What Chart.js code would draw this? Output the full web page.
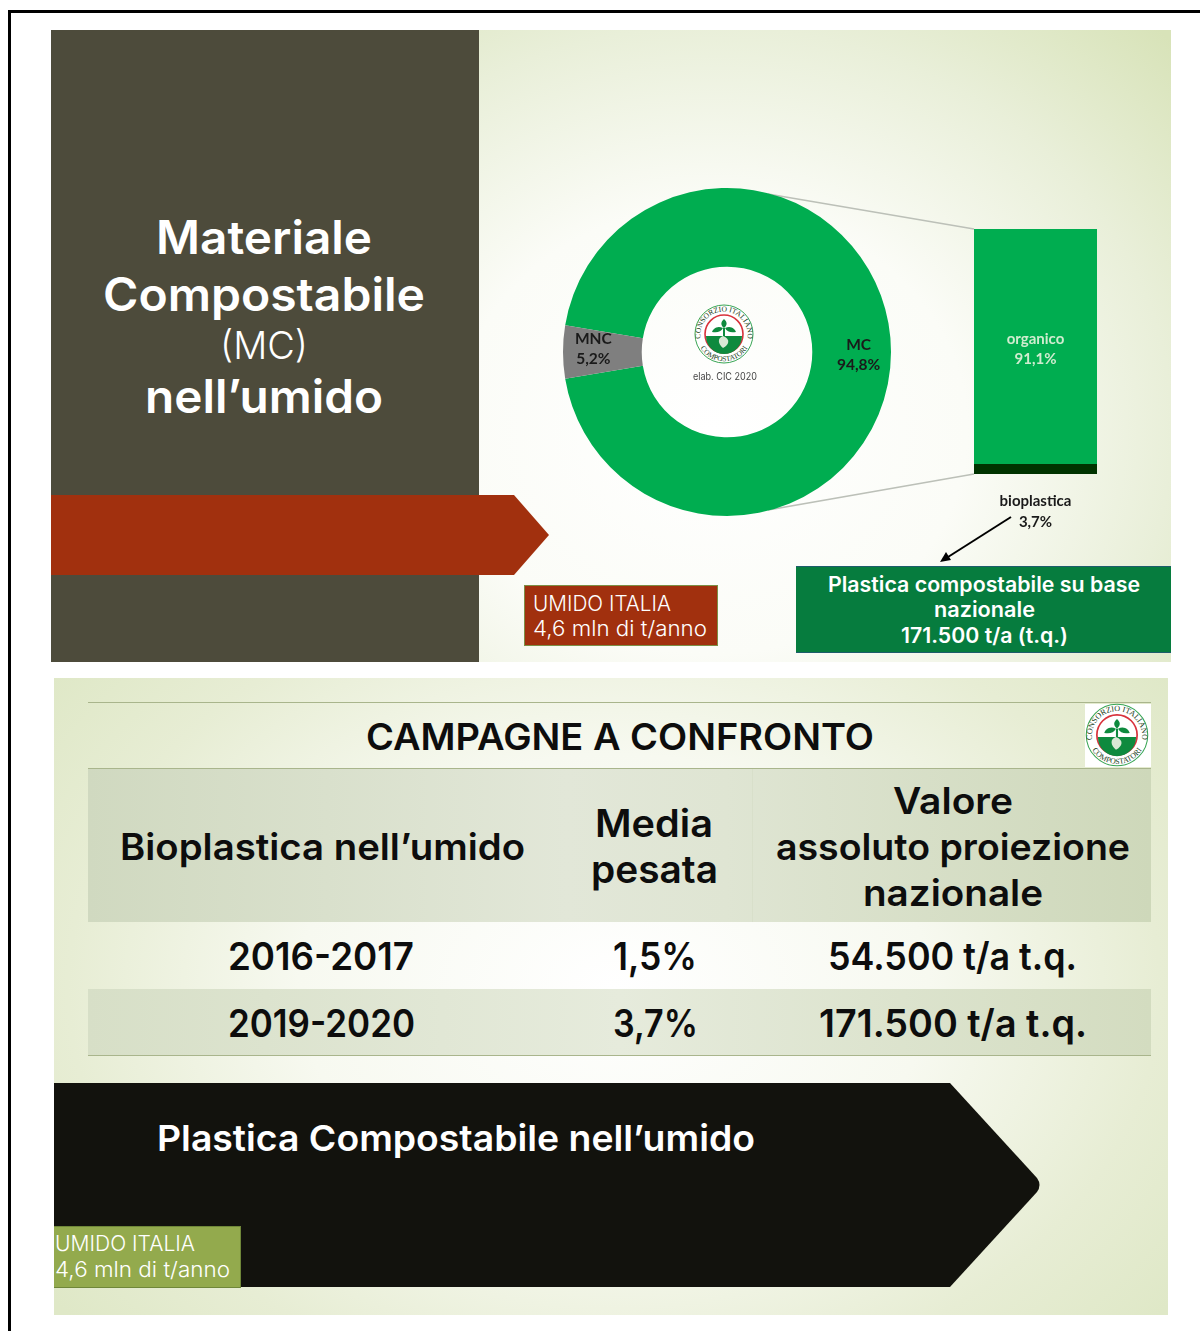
<!DOCTYPE html>
<html><head><meta charset="utf-8">
<script src="https://cdn.jsdelivr.net/npm/chart.js@4/dist/chart.umd.min.js"></script>
<style>
html,body{margin:0;padding:0;background:#fff;width:1200px;height:1331px;overflow:hidden}
#page{position:relative;width:1200px;height:1331px;overflow:hidden;font-family:Inter,sans-serif}
.a{position:absolute}
.t{position:absolute;white-space:nowrap;line-height:1;transform-origin:0 50%}
canvas{position:absolute;display:block}
svg{position:absolute;left:0;top:0;overflow:visible}
</style></head><body>
<div id="page">
<div class="a" style="left:8px;top:10px;width:1192px;height:2.5px;background:#000"></div>
<div class="a" style="left:8px;top:10px;width:2.5px;height:1321px;background:#000"></div>

<div class="a" style="left:51px;top:30px;width:1120px;height:632px;background:radial-gradient(ellipse 640px 560px at 660px 400px,#ffffff 0%,#fbfcf7 40%,#e9efd9 72%,#d8e3b9 100%)"></div>
<div class="a" style="left:51px;top:30px;width:428px;height:632px;background:#4d4b3b"></div>

<div class="a" style="left:54px;top:678px;width:1114px;height:637px;background:radial-gradient(ellipse 700px 520px at 560px 310px,#ffffff 0%,#f7f9f0 45%,#e7edd4 78%,#dfe8c7 100%)"></div>
<div class="a" style="left:88px;top:769px;width:1063px;height:153px;background:linear-gradient(90deg,#d0d9c0 0%,#e2e7d8 45%,#dfe5d3 60%,#ced8ba 100%)"></div>
<div class="a" style="left:88px;top:989px;width:1063px;height:66px;background:linear-gradient(90deg,#d7dfc7 0%,#e6ebdc 50%,#d3dcc0 100%)"></div>
<div class="a" style="left:752px;top:769px;width:1px;height:153px;background:#d8dfca"></div>
<div class="a" style="left:88px;top:702px;width:1063px;height:1px;background:#a9b58c"></div>
<div class="a" style="left:88px;top:768px;width:1063px;height:1px;background:#a9b58c"></div>
<div class="a" style="left:88px;top:1055px;width:1063px;height:1px;background:#a9b58c"></div>
<div class="a" style="left:1085px;top:704px;width:66px;height:63px;background:#fff"></div>

<svg width="1200" height="1331">
  <defs>
    <g id="logo">
      <circle cx="0" cy="0" r="29" fill="#fff" stroke="#3aa655" stroke-width="1"/>
      <circle cx="0" cy="0" r="19" fill="#fff" stroke="#d8323c" stroke-width="1.6"/>
      <path d="M-18 2 H18 A18 18 0 0 1 -18 2Z" fill="#0e8a3e"/>
      <path d="M0 -15 C3.5 -12 3.5 -9 0 -6 C-3.5 -9 -3.5 -12 0 -15Z M-1 -6 C-7 -9 -11 -5 -12 -2 C-7 -1 -3 -2 -1 -6Z M1 -6 C7 -9 11 -5 12 -2 C7 -1 3 -2 1 -6Z M-1 -6 H1 V2 H-1Z" fill="#0e8a3e"/>
      <path d="M-1 2 C-7 4 -6 10 -1 14 C5 11 7 5 -1 2Z" fill="#d9e8d5"/>
      <path id="arcTop" d="M-22 10 A23.7 23.7 0 1 1 22 10" fill="none"/>
      <path id="arcBot" d="M-27.5 2 A27.6 27.6 0 0 0 27.5 2" fill="none"/>
      <text font-family="Liberation Serif" font-size="7.6" fill="#1b3d20"><textPath href="#arcTop" startOffset="50%" text-anchor="middle">CONSORZIO ITALIANO</textPath></text>
      <text font-family="Liberation Serif" font-size="7.4" fill="#1b3d20"><textPath href="#arcBot" startOffset="50%" text-anchor="middle">COMPOSTATORI</textPath></text>
    </g>
  </defs>
  <path d="M51 495 H514 L549 535 L514 575 H51Z" fill="#a1300e"/>
  <path d="M54 1083 H950 L1037 1178 Q1042 1185 1037 1192 L950 1287 H54Z" fill="#12120d"/>
  <line x1="768" y1="194" x2="974" y2="229" stroke="#bcc0b8" stroke-width="1.6"/>
  <line x1="768" y1="510" x2="974" y2="474" stroke="#bcc0b8" stroke-width="1.6"/>
  <line x1="1011" y1="517" x2="948" y2="557" stroke="#000" stroke-width="2"/>
  <path d="M940 562 L951 560 L946 552Z" fill="#000"/>
  <use href="#logo" transform="translate(724 334)"/>
  <use href="#logo" transform="translate(1117 735) scale(1.06)"/>
</svg>

<div class="a" style="left:524px;top:585px;width:192px;height:59px;background:#a1300e;border:1px solid #7c8f45"></div>
<div class="a" style="left:796px;top:566px;width:375px;height:87px;background:#067c3e;border-top:1px solid #1d5c6b;border-bottom:1px solid #1d5c6b;box-sizing:border-box"></div>
<div class="a" style="left:54px;top:1226px;width:186px;height:60px;background:#93aa4d;border:1px solid #6f8739;border-left:0"></div>

<canvas id="ring" width="334" height="334" style="left:560px;top:185px"></canvas>
<canvas id="stack" width="123" height="315" style="left:974px;top:229px"></canvas>
</div>
<script>
// Chart data
const ringLabels = ['MC', 'MNC'];
const ringValues = [94.8, 5.2];
const ringColors = ['#00ad50', '#7f7f7f'];
const ringText = ['94,8%', '5,2%'];
const stackLabels = ['bioplastica', 'organico'];
const stackValues = [3.7, 91.1];
const stackColors = ['#003300', '#00ad50'];
const stackText = ['3,7%', '91,1%'];

const ringLabelPlugin = {
  id: 'ringLabels',
  afterDatasetsDraw(chart) {
    const c = chart.ctx, arcs = chart.getDatasetMeta(0).data;
    const shift = [[7, 3], [-9, -3]];
    c.save();
    c.textAlign = 'center'; c.textBaseline = 'middle'; c.fillStyle = '#1a1a1a';
    c.font = '700 15.5px Lato';
    arcs.forEach((arc, i) => {
      const p = arc.tooltipPosition();
      c.fillText(ringLabels[i], p.x + shift[i][0], p.y + shift[i][1] - 10);
      c.fillText(ringText[i], p.x + shift[i][0], p.y + shift[i][1] + 10);
    });
    c.restore();
  }
};
const stackLabelPlugin = {
  id: 'stackLabels',
  afterDatasetsDraw(chart) {
    const c = chart.ctx;
    const org = chart.getDatasetMeta(1).data[0], bio = chart.getDatasetMeta(0).data[0];
    c.save();
    c.textAlign = 'center'; c.textBaseline = 'middle';
    c.font = '700 15px Lato'; c.fillStyle = '#cfeccf';
    const mid = (org.y + org.base) / 2;
    c.fillText(stackLabels[1], org.x, mid - 8);
    c.fillText(stackText[1], org.x, mid + 12);
    c.fillStyle = '#1a1a1a';
    c.font = '700 15px Lato';
    c.fillText(stackLabels[0], bio.x, bio.base + 27);
    c.fillText(stackText[0], bio.x, bio.base + 48);
    c.restore();
  }
};
new Chart(document.getElementById('ring'), {
  type: 'doughnut',
  data: { labels: ringLabels, datasets: [{ data: ringValues, backgroundColor: ringColors, borderWidth: 0 }] },
  options: {
    responsive: false, animation: false, devicePixelRatio: 1,
    rotation: 270 + ringValues[1] * 1.8, cutout: '52%',
    layout: { padding: 3 },
    plugins: { legend: { display: false }, tooltip: { enabled: false } }
  },
  plugins: [ringLabelPlugin]
});
new Chart(document.getElementById('stack'), {
  type: 'bar',
  data: {
    labels: ['MC'],
    datasets: stackValues.map((v, i) => ({ label: stackLabels[i], data: [v], backgroundColor: stackColors[i], borderWidth: 0, barPercentage: 1, categoryPercentage: 1 }))
  },
  options: {
    responsive: false, animation: false, devicePixelRatio: 1,
    layout: { padding: { bottom: 70 } },
    scales: { x: { stacked: true, display: false }, y: { stacked: true, display: false, min: 0, max: stackValues[0] + stackValues[1] } },
    plugins: { legend: { display: false }, tooltip: { enabled: false } }
  },
  plugins: [stackLabelPlugin]
});

// Slide text: fitted horizontally to the widths seen in the picture
const page = document.getElementById('page');
function T(str, x, cy, size, weight, color, width, align) {
  const d = document.createElement('div');
  d.className = 't'; d.textContent = str;
  d.style.fontSize = size + 'px'; d.style.fontWeight = weight; d.style.color = color;
  page.appendChild(d);
  const w = d.getBoundingClientRect().width, h = d.getBoundingClientRect().height;
  const s = width ? width / w : 1;
  const left = align === 'l' ? x : x - w * s / 2;
  d.style.left = left + 'px'; d.style.top = (cy - 1 - h / 2) + 'px';
  d.style.transform = 'scaleX(' + s + ')';
}
const W = '#ffffff', K = '#0d0d0d';
T('Materiale', 264, 238, 46, 600, W, 216);
T('Compostabile', 264, 295, 46, 600, W, 322);
T('(MC)', 264, 346, 38, 300, W, 88);
T('nell’umido', 264, 397, 46, 600, W, 238);
T('UMIDO ITALIA', 533, 604, 21, 300, W, 138, 'l');
T('4,6 mln di t/anno', 533, 629, 21, 300, W, 174, 'l');
T('Plastica compostabile su base', 984, 585, 21, 600, W, 312);
T('nazionale', 984, 610, 21, 600, W, 101);
T('171.500 t/a (t.q.)', 984, 636, 21, 600, W, 167);
T('elab. CIC 2020', 725, 378, 10.5, 400, '#444', 64);
T('CAMPAGNE A CONFRONTO', 620, 737, 37, 600, K, 508);
T('Bioplastica nell’umido', 322, 847, 37, 600, K, 405);
T('Media', 654, 824, 38, 600, K, 118);
T('pesata', 654, 870, 38, 600, K, 127);
T('Valore', 953, 801, 37, 600, K, 120);
T('assoluto proiezione', 953, 847, 37, 600, K, 354);
T('nazionale', 953, 893, 37, 600, K, 180);
T('2016-2017', 321, 957, 38, 600, K, 186);
T('1,5%', 655, 957, 38, 600, K, 84);
T('54.500 t/a t.q.', 952, 957, 38, 600, K, 249);
T('2019-2020', 321, 1024, 38, 600, K, 187);
T('3,7%', 655, 1024, 38, 600, K, 85);
T('171.500 t/a t.q.', 953, 1024, 38, 600, K, 268);
T('Plastica Compostabile nell’umido', 157, 1139, 36, 600, W, 598, 'l');
T('UMIDO ITALIA', 55, 1244, 21, 300, W, 140, 'l');
T('4,6 mln di t/anno', 55, 1270, 21, 300, W, 175, 'l');
</script>
</body></html>
